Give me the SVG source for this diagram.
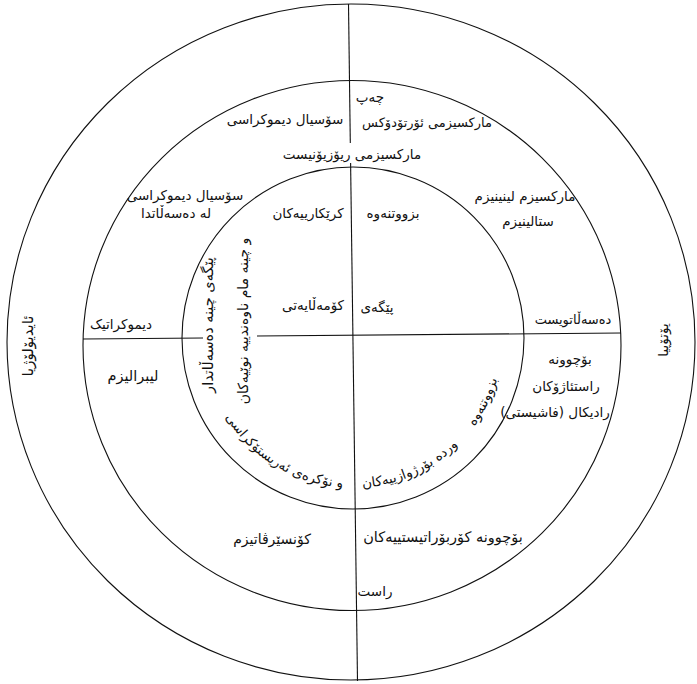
<svg xmlns="http://www.w3.org/2000/svg" width="697" height="684" viewBox="0 0 697 684">
<style>
.ln{fill:none;stroke:#111;stroke-width:1.1}
.t{font-family:"DejaVu Sans",sans-serif;font-size:13.5px;fill:#111;text-anchor:middle;direction:rtl}
.tp{font-family:"DejaVu Sans",sans-serif;font-size:13.5px;fill:#111;direction:rtl}
</style>
<defs>
<path id="arcL" d="M203.6,351.1 A150,150 0 0 0 416.4,473.9"/>
<path id="arcR1" d="M327,485.7 A150,150 0 0 0 494,389.3"/>
<path id="arcR2" d="M449.4,452.9 A150,150 0 0 0 503,338"/>
</defs>
<rect width="697" height="684" fill="#fff"/>
<g id="rings">
<ellipse class="ln" cx="351" cy="342" rx="344" ry="338"/>
<ellipse class="ln" cx="352" cy="345.5" rx="269" ry="265"/>
<circle class="ln" cx="353" cy="338" r="171"/>
</g>
<g id="connectors">
<line class="ln" x1="348.5" y1="4" x2="350.3" y2="143"/>
<line class="ln" x1="350.6" y1="163" x2="357.5" y2="681"/>
<line class="ln" x1="83" y1="339" x2="203" y2="338"/>
<line class="ln" x1="257" y1="336" x2="621" y2="333"/>
</g>
<g id="outer-labels">
<text class="t" transform="translate(28,346) rotate(-90)" dominant-baseline="central" style="font-size:15px">ئایدیۆلۆژیا</text>
<text class="t" transform="translate(663,340) rotate(-90)" dominant-baseline="central">یۆتۆپیا</text>
</g>
<g id="top-left">
<text class="t" x="285" y="124">سۆسیال دیموکراسی</text>
<text class="t" x="185" y="200">سۆسیال دیموکراسی</text>
<text class="t" x="176" y="218">لە دەسەڵاتدا</text>
<text class="t" x="121" y="329">دیموکراتیک</text>
</g>
<g id="top-right">
<text class="t" x="370" y="102">چەپ</text>
<text class="t" x="427" y="127" style="font-size:13px">مارکسیزمی ئۆرتۆدۆکس</text>
<text class="t" x="352" y="159">مارکسیزمی ریۆزیۆنیست</text>
<text class="t" x="525" y="201">مارکسیزم لینینیزم</text>
<text class="t" x="528" y="226">ستالینیزم</text>
<text class="t" x="573" y="324" style="font-size:13px">دەسەڵاتویست</text>
</g>
<g id="inner-top">
<text class="t" x="308" y="218">کرێکارییەکان</text>
<text class="t" x="393" y="218">بزووتنەوە</text>
<text class="t" x="313" y="310">کۆمەڵایەتی</text>
<text class="t" x="377" y="312">پێگەی</text>
</g>
<g id="inner-left">
<text class="t" transform="translate(208,325) rotate(-90)" dominant-baseline="central" style="font-size:14.5px">پێگەی چینە دەسەڵاتدار</text>
<text class="t" transform="translate(243,321) rotate(-90)" dominant-baseline="central" style="font-size:14px">و چینە مام ناوەندییە نوێیەکان</text>
<text class="tp"><textPath href="#arcL" startOffset="49%" text-anchor="middle">و نۆکرەی ئەریستۆکراسی</textPath></text>
</g>
<g id="inner-right">
<text class="tp"><textPath href="#arcR1" startOffset="42.5%" text-anchor="middle">وردە بۆرژوازییەکان</textPath></text>
<text class="tp"><textPath href="#arcR2" startOffset="48%" text-anchor="middle">بزووتنەوە</textPath></text>
</g>
<g id="bottom-left">
<text class="t" x="133" y="381" style="font-size:14.5px">لیبرالیزم</text>
<text class="t" x="272" y="544" style="font-size:14px">کۆنسێرڤاتیزم</text>
</g>
<g id="bottom-right">
<text class="t" x="570" y="364">بۆچوونە</text>
<text class="t" x="566" y="391">راستئاژۆکان</text>
<text class="t" x="555" y="417">رادیکال (فاشیستی)</text>
<text class="t" x="443" y="542" style="font-size:14.5px">بۆچوونە کۆربۆراتیستییەکان</text>
<text class="t" x="375" y="596">راست</text>
</g>
</svg>
